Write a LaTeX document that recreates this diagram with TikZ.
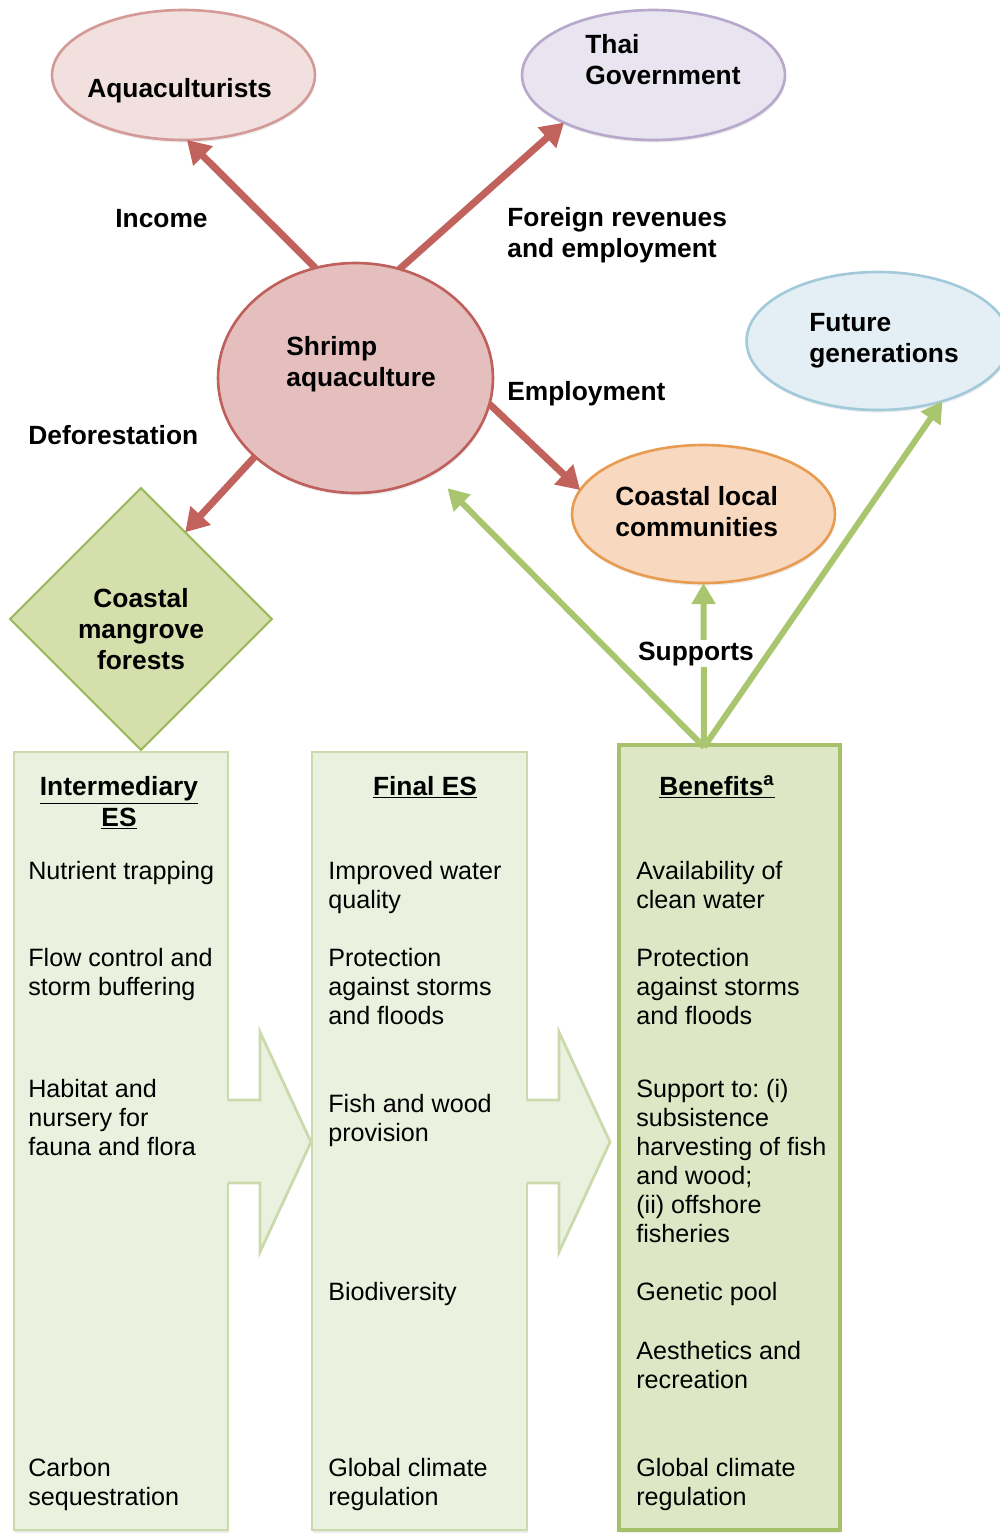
\documentclass[tikz,border=0pt]{standalone}
\usepackage{fontspec}
\setmainfont{Liberation Sans}
\usetikzlibrary{shapes.geometric,arrows.meta,shadows}
\frenchspacing

\definecolor{aquafill}{HTML}{F2E0DF}
\definecolor{aqualine}{HTML}{D39A98}
\definecolor{thaifill}{HTML}{E8E4F0}
\definecolor{thailine}{HTML}{B7A8CC}
\definecolor{shrimpfill}{HTML}{E4BFBE}
\definecolor{shrimpline}{HTML}{C0605C}
\definecolor{futfill}{HTML}{E3EFF4}
\definecolor{futline}{HTML}{A3CADB}
\definecolor{coastfill}{HTML}{F8D9BF}
\definecolor{coastline}{HTML}{E89C52}
\definecolor{mangfill}{HTML}{D4DFAC}
\definecolor{mangline}{HTML}{9DB95E}
\definecolor{colfill}{HTML}{EBF1DF}
\definecolor{colline}{HTML}{CBD9AD}
\definecolor{benfill}{HTML}{DDE7C5}
\definecolor{benline}{HTML}{A6C16A}
\definecolor{arrred}{HTML}{C2625D}
\definecolor{arrgreen}{HTML}{A9C56E}

\newcommand\lblfont{\fontsize{15}{17.5}\selectfont\bfseries}
\newcommand\itemfont{\fontsize{14.3}{16.4}\selectfont}

\begin{document}
\begin{tikzpicture}[x=0.02cm, y=-0.02cm,
    blob/.style={ellipse, line width=1.5pt, inner sep=0pt, outer sep=0pt,
      drop shadow={opacity=0.15, shadow xshift=0.5pt, shadow yshift=-1.5pt}},
    lbl/.style={font=\lblfont, align=left, inner sep=0pt, anchor=base west},
    item/.style={font=\itemfont, align=left, inner sep=0pt, anchor=base west},
    head/.style={font=\lblfont, align=center, inner sep=0pt, anchor=base},
    colbox/.style={rectangle, draw=colline, fill=colfill, line width=1.6pt, inner sep=0pt,
      drop shadow={opacity=0.15, shadow xshift=0.5pt, shadow yshift=-1.5pt}},
    redarr/.style={draw=arrred, line width=4pt, -{Triangle[length=13pt,width=15pt]}},
    greenarr/.style={draw=arrgreen, line width=3.4pt, -{Triangle[length=12pt,width=13pt]}}]
  \useasboundingbox (0,0) rectangle (1000,1535);

  % the three columns
  \node[colbox, minimum width=4.28cm, minimum height=15.56cm] (interm) at (121,1141) {};
  \node[colbox, minimum width=4.3cm, minimum height=15.56cm] (final) at (419.5,1141) {};
  \node[colbox, draw=benline, fill=benfill, line width=2.2pt,
    minimum width=4.42cm, minimum height=15.7cm] (ben) at (729.5,1137.5) {};

  % block arrows between the columns
  \foreach \x in {228,527} {
    \fill[colfill] (\x-3,1100) -- (\x+32,1100) -- (\x+32,1032) -- (\x+83,1142)
      -- (\x+32,1252) -- (\x+32,1183) -- (\x-3,1183) -- cycle;
    \draw[colline, line width=1.6pt] (\x,1100) -- (\x+32,1100) -- (\x+32,1032)
      -- (\x+83,1142) -- (\x+32,1252) -- (\x+32,1183) -- (\x,1183);
  }

  % stakeholders
  \node[blob, draw=aqualine, fill=aquafill, minimum width=5.26cm, minimum height=2.6cm] (aqua) at (183.5,75) {};
  \node[blob, draw=thailine, fill=thaifill, minimum width=5.26cm, minimum height=2.6cm] (thai) at (653.5,75) {};
  \node[blob, draw=shrimpline, fill=shrimpfill, minimum width=5.5cm, minimum height=4.6cm] (shrimp) at (355.5,378) {};
  \node[blob, draw=futline, fill=futfill, minimum width=5.26cm, minimum height=2.76cm] (fut) at (878,341) {};
  \node[blob, draw=coastline, fill=coastfill, minimum width=5.26cm, minimum height=2.76cm] (coast) at (703.5,514) {};
  \node[diamond, aspect=1, draw=mangline, fill=mangfill, line width=1.2pt, inner sep=0pt, outer sep=0pt,
    minimum width=5.24cm, minimum height=5.24cm] (mang) at (141,619) {};

  % (multi-line labels sit on the baseline of their last line)
  \node[lbl] (aqualbl) at (87,97) {Aquaculturists};
  \node[lbl] (thailbl) at (585,84) {Thai\\Government};
  \node[lbl] (shrimplbl) at (286,386) {Shrimp\\aquaculture};
  \node[lbl] (futlbl) at (809,362) {Future\\generations};
  \node[lbl] (coastlbl) at (615,536) {Coastal local\\communities};
  \node[lbl, align=center, anchor=base] (manglbl) at (141,669) {Coastal\\mangrove\\forests};

  % flows from shrimp aquaculture
  \draw[redarr] (shrimp.110) -- (aqua.-87);
  \draw[redarr] (shrimp.68) -- (thai.208);
  \draw[redarr] (shrimp.-11) -- (coast.169);
  \draw[redarr] (shrimp.218) -- (mang.63);

  \node[lbl] (income) at (115,227) {Income};
  \node[lbl] (foreign) at (507,257) {Foreign revenues\\and employment};
  \node[lbl] (employ) at (507,400) {Employment};
  \node[lbl] (defor) at (28,444) {Deforestation};

  % benefits support the stakeholders
  \coordinate (bensrc) at (704,747);
  \draw[greenarr, shorten >=12pt] (bensrc) -- (shrimp.-51);
  \draw[greenarr] (bensrc) -- (coast.south);
  \draw[greenarr] (bensrc) -- (fut.-43);
  \node[lbl, fill=white, inner sep=1pt] (supports) at (636,660) {Supports};

  % column headings
  \node[head] (h1) at (119,826) {\underline{Intermediary}\\\underline{ES}};
  \node[head] (h2) at (425,795) {\underline{Final ES}};
  \node[head] (h3) at (717,795) {\underline{Benefits\textsuperscript{a}}};

  % intermediary ES
  \node[item] (i1) at (28,879) {Nutrient trapping};
  \node[item] (i2) at (28,995) {Flow control and\\storm buffering};
  \node[item] (i3) at (28,1155) {Habitat and\\nursery for\\fauna and flora};
  \node[item] (i4) at (28,1505) {Carbon\\sequestration};

  % final ES
  \node[item] (f1) at (328,908) {Improved water\\quality};
  \node[item] (f2) at (328,1024) {Protection\\against storms\\and floods};
  \node[item] (f3) at (328,1141) {Fish and wood\\provision};
  \node[item] (f4) at (328,1300) {Biodiversity};
  \node[item] (f5) at (328,1505) {Global climate\\regulation};

  % benefits
  \node[item] (b1) at (636,908) {Availability of\\clean water};
  \node[item] (b2) at (636,1024) {Protection\\against storms\\and floods};
  \node[item] (b3) at (636,1242) {Support to: (i)\\subsistence\\harvesting of fish\\and wood;\\(ii) offshore\\fisheries};
  \node[item] (b4) at (636,1300) {Genetic pool};
  \node[item] (b5) at (636,1388) {Aesthetics and\\recreation};
  \node[item] (b6) at (636,1505) {Global climate\\regulation};
\end{tikzpicture}
\end{document}
